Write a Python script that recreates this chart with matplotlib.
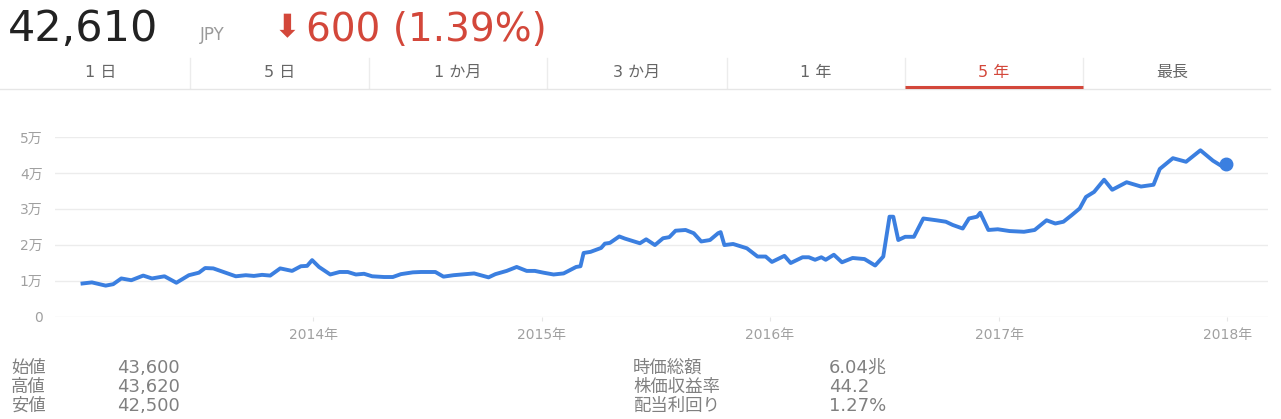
import matplotlib
matplotlib.use("Agg")
import matplotlib.pyplot as plt
from matplotlib.lines import Line2D
import pandas as pd

plt.rcParams['font.family'] = ['DejaVu Sans', 'Noto Sans CJK JP']

# ---- data (5年 chart, JPY) ----
dates = [
    '2012-12-28', '2013-01-12', '2013-02-03', '2013-02-15', '2013-02-28', '2013-03-16',
    '2013-04-04', '2013-04-18', '2013-05-08', '2013-05-27', '2013-06-16', '2013-07-02',
    '2013-07-12', '2013-07-25', '2013-08-20', '2013-08-30', '2013-09-15', '2013-09-28',
    '2013-10-11', '2013-10-24', '2013-11-09', '2013-11-28', '2013-12-12', '2013-12-22',
    '2013-12-30', '2014-01-10', '2014-01-28', '2014-02-12', '2014-02-25', '2014-03-10',
    '2014-03-23', '2014-04-05', '2014-04-24', '2014-05-08', '2014-05-21', '2014-06-09',
    '2014-06-22', '2014-07-05', '2014-07-15', '2014-07-28', '2014-08-13', '2014-09-02',
    '2014-09-15', '2014-10-08', '2014-10-19', '2014-11-06', '2014-11-22', '2014-12-08',
    '2014-12-21', '2015-01-04', '2015-01-20', '2015-02-05', '2015-02-25', '2015-03-04',
    '2015-03-09', '2015-03-20', '2015-04-06', '2015-04-12', '2015-04-20', '2015-05-05',
    '2015-05-14', '2015-06-07', '2015-06-17', '2015-07-01', '2015-07-14', '2015-07-24',
    '2015-08-03', '2015-08-19', '2015-09-01', '2015-09-13', '2015-09-27', '2015-10-10',
    '2015-10-14', '2015-10-20', '2015-11-03', '2015-11-25', '2015-12-12', '2015-12-25',
    '2016-01-04', '2016-01-24', '2016-02-03', '2016-02-22', '2016-03-03', '2016-03-13',
    '2016-03-23', '2016-03-30', '2016-04-12', '2016-04-25', '2016-05-12', '2016-05-31',
    '2016-06-17', '2016-06-30', '2016-07-10', '2016-07-16', '2016-07-24', '2016-08-04',
    '2016-08-18', '2016-09-02', '2016-09-23', '2016-10-08', '2016-10-19', '2016-11-04',
    '2016-11-14', '2016-11-27', '2016-12-02', '2016-12-15', '2016-12-30', '2017-01-18',
    '2017-02-10', '2017-02-27', '2017-03-18', '2017-04-01', '2017-04-14', '2017-04-27',
    '2017-05-10', '2017-05-20', '2017-06-02', '2017-06-18', '2017-07-01', '2017-07-24',
    '2017-08-16', '2017-09-05', '2017-09-15', '2017-10-06', '2017-10-27', '2017-11-19',
    '2017-12-09', '2017-12-22', '2017-12-30',
]
prices = [
    9200, 9500, 8600, 9000, 10600, 10100,
    11400, 10600, 11200, 9400, 11500, 12200,
    13500, 13400, 11800, 11200, 11500, 11300,
    11600, 11400, 13400, 12700, 14000, 14100,
    15700, 13800, 11700, 12400, 12400, 11700,
    11900, 11200, 11000, 11000, 11800, 12300,
    12400, 12400, 12400, 11100, 11500, 11800,
    12000, 10900, 11800, 12700, 13800, 12700,
    12700, 12200, 11700, 12000, 13800, 14000,
    17700, 18000, 19100, 20300, 20500, 22300,
    21700, 20400, 21500, 19900, 21800, 22100,
    23900, 24100, 23200, 20900, 21300, 23200,
    23500, 19900, 20200, 19000, 16700, 16700,
    15200, 16900, 14900, 16500, 16500, 15800,
    16500, 15800, 17200, 15100, 16300, 16000,
    14200, 16700, 27800, 27800, 21300, 22200,
    22200, 27300, 26800, 26400, 25500, 24500,
    27300, 27800, 28900, 24100, 24300, 23800,
    23600, 24100, 26800, 25900, 26400, 28200,
    30100, 33300, 34700, 38100, 35300, 37400,
    36200, 36700, 41100, 44100, 43100, 46300,
    43400, 42000, 42610,
]

yticks = [0, 10000, 20000, 30000, 40000, 50000]
ytick_labels = ['0', '1万', '2万', '3万', '4万', '5万']
xtick_years = ['2014', '2015', '2016', '2017', '2018']

tabs = ['1 日', '5 日', '1 か月', '3 か月', '1 年', '5 年', '最長']
selected_tab = '5 年'

stats_left_labels = ['始値', '高値', '安値']
stats_left_values = ['43,600', '43,620', '42,500']
stats_right_labels = ['時価総額', '株価収益率', '配当利回り']
stats_right_values = ['6.04兆', '44.2', '1.27%']

price_now = '42,610'
currency = 'JPY'
change_text = '600 (1.39%)'

W, H = 1281, 419
RED = '#d3473a'
BLUE = '#3b7fe0'
GRAY = '#808080'


def fx(x):
    return x / W


def fy(y):
    return 1 - y / H


fig = plt.figure(figsize=(W / 100, H / 100), dpi=100)

# header
fig.text(fx(8), fy(29), price_now, fontsize=31, color='#222222', va='center', ha='left')
fig.text(fx(200), fy(35), currency, fontsize=12, color='#9a9a9a', va='center', ha='left')
fig.text(fx(274), fy(29), '⬇', fontsize=23, color=RED, va='center', ha='left')
fig.text(fx(306), fy(30), change_text, fontsize=28, color=RED, va='center', ha='left')

# tabs
tab_edges = [12, 190, 369, 547, 727, 905, 1083, 1262]
for i, t in enumerate(tabs):
    cx = (tab_edges[i] + tab_edges[i + 1]) / 2
    col = RED if t == selected_tab else '#666666'
    fig.text(fx(cx), fy(72), t, fontsize=11.5, color=col, ha='center', va='center')
for e in tab_edges[1:-1]:
    fig.add_artist(Line2D([fx(e), fx(e)], [fy(58), fy(88)], color='#ececec', lw=1))
fig.add_artist(Line2D([fx(0), fx(1270)], [fy(89), fy(89)], color='#e6e6e6', lw=1))
k = tabs.index(selected_tab)
fig.add_artist(Line2D([fx(tab_edges[k]), fx(tab_edges[k + 1])], [fy(87.5), fy(87.5)],
                      color=RED, lw=2.2, solid_capstyle='butt'))

# chart
ax = fig.add_axes([fx(55), fy(316.5), fx(1268 - 55), (316.5 - 137) / H])
x = pd.to_datetime(dates)
ax.plot(x, prices, color=BLUE, lw=2.8, solid_joinstyle='round', zorder=3)
ax.plot(x[-1:], prices[-1:], 'o', color=BLUE, ms=9, zorder=4, clip_on=False)

ax.set_xlim(pd.Timestamp('2012-11-14'), pd.Timestamp('2018-03-07'))
ax.set_ylim(0, 50000)
ax.set_yticks(yticks)
ax.set_yticklabels(ytick_labels)
ax.set_xticks(pd.to_datetime([y + '-01-01' for y in xtick_years]))
ax.set_xticklabels([y + '年' for y in xtick_years])
ax.grid(axis='y', color='#ececec', lw=1)
ax.set_axisbelow(True)
for s in ax.spines.values():
    s.set_visible(False)
ax.tick_params(axis='y', length=0, pad=9, labelsize=10, labelcolor='#a0a0a0')
ax.tick_params(axis='x', length=3, color='#e6e6e6', pad=5, labelsize=10, labelcolor='#a0a0a0')

# stats
rows_y = [368, 387, 406]
for yy, lab, val in zip(rows_y, stats_left_labels, stats_left_values):
    fig.text(fx(11), fy(yy), lab, fontsize=12.5, color=GRAY, va='center', ha='left')
    fig.text(fx(117), fy(yy), val, fontsize=13, color=GRAY, va='center', ha='left')
for yy, lab, val in zip(rows_y, stats_right_labels, stats_right_values):
    fig.text(fx(633), fy(yy), lab, fontsize=12.5, color=GRAY, va='center', ha='left')
    fig.text(fx(829), fy(yy), val, fontsize=13, color=GRAY, va='center', ha='left')

fig.savefig('out.png', dpi=100)
